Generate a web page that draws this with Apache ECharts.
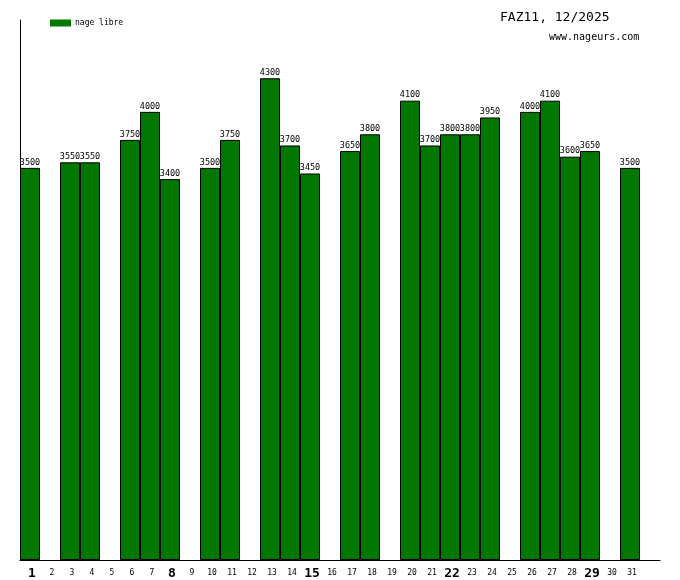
<!DOCTYPE html>
<html><head><meta charset="utf-8">
<script src="https://cdn.jsdelivr.net/npm/echarts@6/dist/echarts.min.js"></script>
<style>html,body{margin:0;padding:0;background:#fff}#c{width:680px;height:580px}</style>
</head><body><div id="c"></div>
<script>
const days = ['1','2','3','4','5','6','7','8','9','10','11','12','13','14','15','16','17','18','19','20','21','22','23','24','25','26','27','28','29','30','31',''];
const boldDays = ['1','8','15','22','29'];
const nageLibre = [3500,null,3550,3550,null,3750,4000,3400,null,3500,3750,null,4300,3700,3450,null,3650,3800,null,4100,3700,3800,3800,3950,null,4000,4100,3600,3650,null,3500,null];
const seriesName = 'nage libre';
const title = 'FAZ11, 12/2025';
const subtitle = 'www.nageurs.com';

const chart = echarts.init(document.getElementById('c'));
const mono = 'DejaVu Sans Mono';
chart.setOption({
  animation: false,
  backgroundColor: '#fff',
  title: [
    {text: title, left: 500, top: 11, padding: 0, textStyle:{fontFamily: mono, fontSize: 13, fontWeight: 'normal', color:'#000'}},
    {text: subtitle, left: 549, top: 32, padding: 0, textStyle:{fontFamily: mono, fontSize: 10, fontWeight: 'normal', color:'#000'}}
  ],
  legend: {
    left: 50, top: 19, padding: 0, itemWidth: 21, itemHeight: 7, itemGap: 4,
    icon: 'rect',
    itemStyle: {borderWidth: 0},
    textStyle: {fontFamily: mono, fontSize: 8, color:'#000', padding:[0,0,0,-1]},
    data: [seriesName]
  },
  grid: {left: 20, top: 20, width: 640, height: 540, containLabel: false},
  xAxis: {
    type: 'category', data: days,
    axisLine: {lineStyle:{color:'#000', width:1}},
    axisTick: {show:false},
    axisLabel: {
      margin: 7,
      interval: 0,
      formatter: v => boldDays.includes(v) ? '{b|' + v + '}' : '{n|' + v + '}',
      rich: {
        b: {fontFamily: mono, fontSize: 13, fontWeight: 'bold', color:'#000', padding:[0,0,0,4]},
        n: {fontFamily: mono, fontSize: 8, color:'#000', padding:[2,0,0,4]}
      }
    }
  },
  yAxis: {
    type: 'value', min: 0, max: 4820,
    axisLine: {show: true, lineStyle:{color:'#000', width:1}},
    axisTick: {show:false}, axisLabel: {show:false}, splitLine: {show:false}
  },
  series: [{
    name: seriesName, type: 'bar', data: nageLibre,
    barWidth: 20, barCategoryGap: '0%',
    itemStyle: {color: '#007800', borderColor: '#000', borderWidth: 1},
    label: {show: true, position: 'top', distance: 1, fontFamily: mono, fontSize: 8.5, color:'#000'}
  }]
});
</script></body></html>
